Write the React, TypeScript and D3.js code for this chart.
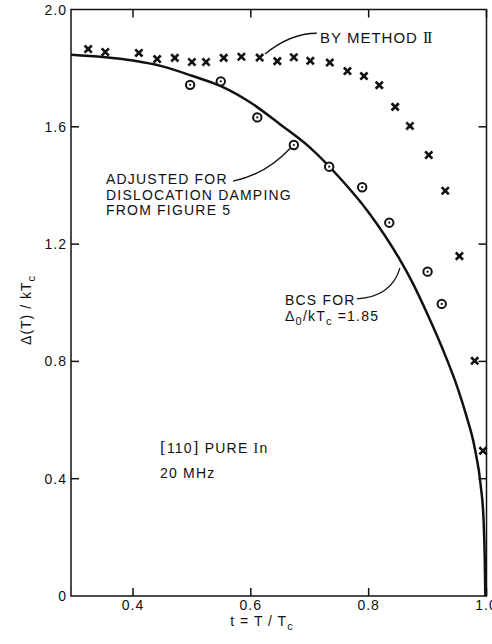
import React from "react";
import * as d3 from "d3";

// ---- data ----
const methodII_t = [0.324, 0.353, 0.41, 0.441, 0.471, 0.5, 0.524, 0.554, 0.584, 0.615, 0.645, 0.673, 0.701, 0.734, 0.764, 0.792, 0.818, 0.845, 0.87, 0.902, 0.93, 0.954, 0.98, 0.994];
const methodII_gap = [1.865, 1.855, 1.852, 1.831, 1.835, 1.821, 1.821, 1.835, 1.839, 1.836, 1.824, 1.837, 1.825, 1.819, 1.79, 1.773, 1.742, 1.668, 1.603, 1.504, 1.382, 1.159, 0.802, 0.495];

const adjusted_t = [0.497, 0.549, 0.611, 0.673, 0.733, 0.789, 0.835, 0.9, 0.924];
const adjusted_gap = [1.743, 1.755, 1.632, 1.538, 1.464, 1.394, 1.273, 1.106, 0.996];

const bcs_t = [0.295, 0.35, 0.4, 0.45, 0.5, 0.55, 0.6, 0.65, 0.7, 0.75, 0.8, 0.85, 0.875, 0.9, 0.925, 0.95, 0.965, 0.98, 0.99, 0.995, 0.997, 0.998];
const bcs_gap = [1.846, 1.838, 1.826, 1.806, 1.774, 1.738, 1.682, 1.608, 1.53, 1.428, 1.308, 1.157, 1.066, 0.96, 0.845, 0.715, 0.62, 0.505, 0.38, 0.26, 0.13, 0];

const xTicks = [0.4, 0.6, 0.8, 1.0];
const xTickLabels = ["0.4", "0.6", "0.8", "1.0"];
const yTicks = [0, 0.4, 0.8, 1.2, 1.6, 2.0];
const yTickLabels = ["0", "0.4", "0.8", "1.2", "1.6", "2.0"];
const xDomain = [0.2948, 1.0];
const yDomain = [0, 2.0];

// annotation anchors in data units: [start, control, end]
const leaderMethod = [[0.624, 1.848], [0.667, 1.919], [0.712, 1.919]];
const leaderAdjusted = [[0.57, 1.415], [0.624, 1.436], [0.667, 1.527]];
const leaderBCS = [[0.78, 1.013], [0.839, 1.021], [0.853, 1.118]];

const W = 492, H = 644;
const M = { left: 71, right: 486.5, top: 9.5, bottom: 596 };
const FONT = "'Liberation Sans', Arial, sans-serif";
const SERIF = "'Liberation Serif', serif";

export default function App() {
  const x = d3.scaleLinear().domain(xDomain).range([M.left, M.right]);
  const y = d3.scaleLinear().domain(yDomain).range([M.bottom, M.top]);

  const bcsPts = bcs_t.map((t, i) => [t, bcs_gap[i]] as [number, number]);
  const line = d3.line<[number, number]>()
    .x(d => x(d[0]))
    .y(d => y(d[1]))
    .curve(d3.curveMonotoneX);

  const leader = (p: number[][]) => {
    const path = d3.path();
    path.moveTo(x(p[0][0]), y(p[0][1]));
    path.quadraticCurveTo(x(p[1][0]), y(p[1][1]), x(p[2][0]), y(p[2][1]));
    return path.toString();
  };

  const tickLen = 8;
  const cs = 3.6;

  return (
    <svg width={W} height={H} style={{ position: "absolute", left: 0, top: 0, background: "#fff" }}>
      <rect x={0} y={0} width={W} height={H} fill="#fff" />
      {/* frame */}
      <rect x={M.left} y={M.top} width={M.right - M.left} height={M.bottom - M.top} fill="none" stroke="#111" strokeWidth={1.5} />
      {/* x ticks, bottom and top, inward */}
      {xTicks.map((t, i) => (
        <g key={"xt" + i}>
          <line x1={x(t)} x2={x(t)} y1={M.bottom} y2={M.bottom - tickLen} stroke="#111" strokeWidth={1.5} />
          <line x1={x(t)} x2={x(t)} y1={M.top} y2={M.top + tickLen} stroke="#111" strokeWidth={1.5} />
          <text x={x(t)} y={M.bottom + 14} textAnchor="middle" fontFamily={FONT} fontSize={14} letterSpacing={1} fill="#111">{xTickLabels[i]}</text>
        </g>
      ))}
      {/* y ticks, left and right, inward */}
      {yTicks.map((v, i) => (
        <g key={"yt" + i}>
          {v > 0 && v < 2 && (
            <>
              <line x1={M.left} x2={M.left + tickLen} y1={y(v)} y2={y(v)} stroke="#111" strokeWidth={1.5} />
              <line x1={M.right} x2={M.right - tickLen} y1={y(v)} y2={y(v)} stroke="#111" strokeWidth={1.5} />
            </>
          )}
          <text x={67} y={y(v) + 5} textAnchor="end" fontFamily={FONT} fontSize={14} letterSpacing={1} fill="#111">{yTickLabels[i]}</text>
        </g>
      ))}
      {/* axis titles */}
      <text transform={`translate(31, 310) rotate(-90)`} textAnchor="middle" fontFamily={FONT} fontSize={14} letterSpacing={1} fill="#111">
        Δ(T) / kT<tspan fontSize={11} dy={4}>c</tspan>
      </text>
      <text x={262} y={626} textAnchor="middle" fontFamily={FONT} fontSize={14} letterSpacing={1} fill="#111">
        t = T / T<tspan fontSize={11} dy={4}>c</tspan>
      </text>

      {/* BCS curve */}
      <path d={line(bcsPts) || ""} fill="none" stroke="#111" strokeWidth={2.5} />

      {/* Method II crosses */}
      {methodII_t.map((t, i) => {
        const cx = x(t), cy = y(methodII_gap[i]);
        return (
          <g key={"x" + i} stroke="#111" strokeWidth={2.6} strokeLinecap="butt">
            <line x1={cx - cs} y1={cy - cs} x2={cx + cs} y2={cy + cs} />
            <line x1={cx - cs} y1={cy + cs} x2={cx + cs} y2={cy - cs} />
          </g>
        );
      })}

      {/* adjusted circles */}
      {adjusted_t.map((t, i) => {
        const cx = x(t), cy = y(adjusted_gap[i]);
        return (
          <g key={"o" + i}>
            <circle cx={cx} cy={cy} r={4.2} fill="#fff" stroke="#111" strokeWidth={2} />
            <circle cx={cx} cy={cy} r={1.1} fill="#111" />
          </g>
        );
      })}

      {/* leaders */}
      <path d={leader(leaderMethod)} fill="none" stroke="#111" strokeWidth={1.3} />
      <path d={leader(leaderAdjusted)} fill="none" stroke="#111" strokeWidth={1.3} />
      <path d={leader(leaderBCS)} fill="none" stroke="#111" strokeWidth={1.3} />

      {/* annotations */}
      <text x={320} y={43} fontFamily={FONT} fontSize={15} letterSpacing={1} fill="#111">
        BY METHOD <tspan fontFamily={SERIF} fontSize={16} letterSpacing={-1.5}>II</tspan>
      </text>
      <g fontFamily={FONT} fontSize={14} letterSpacing={1.2} fill="#111">
        <text x={106} y={184}>ADJUSTED FOR</text>
        <text x={106} y={199.5}>DISLOCATION DAMPING</text>
        <text x={106} y={215}>FROM FIGURE 5</text>
        <text x={285} y={305}>BCS FOR</text>
        <text x={285} y={321}>
          Δ<tspan fontSize={11} dy={4}>0</tspan><tspan dy={-4}>/kT</tspan><tspan fontSize={11} dy={4}>c</tspan><tspan dy={-4}> =1.85</tspan>
        </text>
        <text x={160} y={453}>
          <tspan fontFamily={SERIF} fontSize={17}>[</tspan>110<tspan fontFamily={SERIF} fontSize={17}>]</tspan> PURE <tspan fontFamily={SERIF}>I</tspan>n
        </text>
        <text x={160} y={478}>20 MHz</text>
      </g>
    </svg>
  );
}
